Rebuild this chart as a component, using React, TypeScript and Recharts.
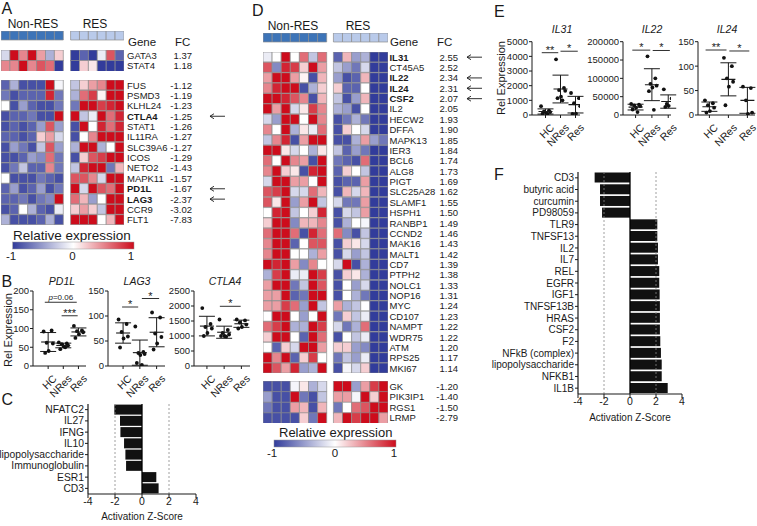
import { Bar, BarChart, Cell, ErrorBar, ReferenceLine, Scatter, ScatterChart, XAxis, YAxis } from 'recharts';

const FONT = '"Liberation Sans", Arial, Helvetica, sans-serif';
const INK = '#1a1a1a';

// ---- panel A heatmap ----
const aTopGenes = ['GATA3', 'STAT4'];
const aTopFc = [1.37, 1.18];
const aTopNonRes = [
  [-0.2, 1, 0.5, 1, 0.4, -0.4, 0.2],
  [0.5, 0.5, 1, 0.5, 0.7, 0.6, -1],
];
const aTopRes = [
  [-1, -0.8, -1, -0.1, 0.7, -0.8],
  [-1, 0.2, 0.1, -1, -1, -1],
];
const aGenes = ['FUS', 'PSMD3', 'KLHL24', 'CTLA4', 'STAT1', 'IL11RA', 'SLC39A6', 'ICOS', 'NETO2', 'MAPK11', 'PD1L', 'LAG3', 'CCR9', 'FLT1'];
const aFc = [-1.12, -1.19, -1.23, -1.25, -1.26, -1.27, -1.27, -1.29, -1.43, -1.57, -1.67, -2.37, -3.02, -7.83];
const aNonRes = [
  [-0.8, -0.4, -0.9, -0.9, -0.9, 1, -0.05],
  [-0.7, -0.9, -0.8, -0.8, -0.8, 0.9, -0.7],
  [0, -0.9, -0.5, -0.8, -0.9, -0.9, -0.7],
  [-0.9, -0.8, -0.8, -0.7, -0.9, -0.9, 1],
  [-0.9, -0.8, -0.9, -0.8, -0.5, 0.7, -0.5],
  [-0.8, -0.8, -0.9, -0.8, 0.2, 0.4, -0.2],
  [-0.9, -0.5, -0.7, -0.9, -0.3, 0.7, -0.5],
  [-0.9, -0.9, -0.8, -0.5, -0.6, 0.6, -0.7],
  [-0.9, -0.7, -0.3, -0.8, -0.8, 0.5, -0.7],
  [0, -0.9, -0.9, -0.9, -0.7, -0.8, -0.9],
  [-0.8, -0.5, -0.9, -0.8, -0.5, -0.9, -0.7],
  [-0.8, -0.8, -0.7, -0.9, -0.7, -0.6, 1],
  [-0.9, -0.8, 0, -0.4, -0.8, -0.9, -0.1],
  [-0.4, -0.9, -0.9, -0.9, -0.8, -0.4, -0.9],
];
const aRes = [
  [-0.3, 0.2, 0.4, 0.5, 1, 1],
  [-0.4, 0.6, 0.8, 0.05, 1, 1],
  [-0.7, 1, 1, 0.8, 0.9, 1],
  [1, -0.3, -0.1, 1, 0.6, 0.9],
  [-0.9, 1, 0, 0.9, 0.6, 0.9],
  [-0.9, 0, 0.5, 1, 1, 1],
  [-0.4, 1, 1, -0.4, 0, 1],
  [-0.9, 0.2, 0.7, 0.8, 1, 1],
  [-0.3, 0.9, 1, 1, -0.7, 0.3],
  [0.7, 0.7, 0.5, -0.2, 1, 1],
  [1, -0.2, 1, 0.7, 0.6, 1],
  [0.6, 0.3, -0.5, 0, 1, 1],
  [0.2, 0.4, 0.2, -0.3, 1, 1],
  [1, 1, 1, 0, 0.3, 1],
];
const aMarked = ['CTLA4', 'PD1L', 'LAG3'];

// ---- panel D heatmap ----
const dGenes = ['IL31', 'CT45A5', 'IL22', 'IL24', 'CSF2', 'IL2', 'HECW2', 'DFFA', 'MAPK13', 'IER3', 'BCL6', 'ALG8', 'PIGT', 'SLC25A28', 'SLAMF1', 'HSPH1', 'RANBP1', 'CCND2', 'MAK16', 'MALT1', 'CD7', 'PTPH2', 'NOLC1', 'NOP16', 'MYC', 'CD107', 'NAMPT', 'WDR75', 'ATM', 'RPS25', 'MKI67'];
const dFc = [2.55, 2.52, 2.34, 2.31, 2.07, 2.05, 1.93, 1.9, 1.85, 1.84, 1.74, 1.73, 1.69, 1.62, 1.55, 1.5, 1.49, 1.46, 1.43, 1.42, 1.39, 1.38, 1.33, 1.31, 1.24, 1.23, 1.22, 1.22, 1.2, 1.17, 1.14];
const dNonRes = [
  [-0.1, 0, 1, 0, 0.6, -0.3, 0.6],
  [0.7, -0.6, 0.9, 0.8, 0.2, 1, 0.4],
  [0.4, 1, 1, 0.4, 0.05, -0.9, 0.3],
  [0.5, 0.9, 1, 1, -0.9, -0.4, 0.2],
  [1, 1, 0.9, 0.7, 0.5, -0.9, 0.3],
  [1, 0.4, 1, -0.2, 0.1, 0.8, 0.5],
  [-0.2, -0.5, 1, 1, 0, 1, 0.5],
  [0.5, 0, 1, -0.4, 0.1, -0.1, 0.6],
  [-0.3, 0.5, 0.9, -0.9, 0.4, 1, 1],
  [1, 1, 0.1, -0.2, 0, -0.4, 0.1],
  [0.6, 0, 1, 0.5, 0.4, -0.9, 1],
  [0.5, 1, 0.2, 0.1, -0.9, 0.9, 1],
  [-0.2, 1, 1, 0.4, 0.4, 0, 1],
  [0.7, 0.8, 1, -0.2, -0.2, 0.6, 0.3],
  [0.7, 0.1, 1, -0.5, 0.4, 1, -0.3],
  [0, 0.9, 1, -0.3, 0, 0.2, 0.9],
  [0.2, 1, 1, -0.6, 0.3, 0.3, 0.5],
  [0.6, 1, 1, 0.6, -0.9, 0.9, 0.6],
  [0.5, 1, 1, -0.8, 0, 0.7, 0.7],
  [0.5, 1, 1, 0, 0, -0.4, 0.4],
  [1, 0.9, 1, 0.4, -0.6, 0.5, 0],
  [-0.4, 0.8, 1, -0.1, -0.1, 1, 0.8],
  [0.4, 1, 1, -0.7, -0.3, 1, 0.7],
  [0.4, 0.4, 1, -0.8, -0.7, 1, 1],
  [0.4, 0.4, 0.8, 0.6, -0.5, 1, -0.3],
  [0, 1, 1, 0, -0.5, 0, 1],
  [0.6, 0.8, 1, -0.4, -0.4, 1, 0.8],
  [0.2, 1, 1, 0, -0.8, 1, 0.6],
  [0, -0.8, 0.2, -0.2, 1, 1, 0.4],
  [1, 0.5, 1, -0.8, 0.2, 0.8, 0],
  [1, 0.7, 0.4, 0.9, -0.5, -0.4, 1],
];
const dRes = [
  [-0.8, 0.3, -0.5, -0.4, -1, -1],
  [-0.3, -0.5, -0.7, -0.2, -1, -1],
  [-0.5, -0.9, -0.8, 0.3, -1, -1],
  [0.2, -0.8, -0.8, 0, -1, -1],
  [-0.3, -0.9, -0.5, 0.3, -1, -1],
  [-0.4, -0.5, -0.9, 0, -1, -1],
  [-0.9, -0.7, -0.4, -0.7, -1, -1],
  [-0.9, 0.2, 0, -0.2, -1, -1],
  [-0.9, -0.9, -0.4, 0.4, -0.5, -0.7],
  [-0.3, -0.8, -0.5, -0.7, -1, -1],
  [-0.7, -0.8, -0.9, 0.6, -1, -1],
  [-0.8, 0.2, 0, -0.3, -1, -1],
  [-0.9, -0.8, -0.8, 0.4, -1, -1],
  [-0.9, 0.3, -0.2, 0.3, -1, -1],
  [-0.2, -0.7, -0.7, 0.4, -1, -1],
  [-0.9, -0.2, -0.3, 0.4, -1, -1],
  [-0.9, -0.4, 0, -0.05, -1, -1],
  [0.6, -0.6, -0.9, -0.3, -1, -1],
  [-0.9, 0.2, 0.1, -0.2, -1, -1],
  [-0.9, -0.2, -0.5, -0.3, -1, -1],
  [-0.2, 1, -0.9, -0.4, -1, -1],
  [-0.9, 0.2, 0.1, -0.4, -1, -1],
  [-0.9, 0, -0.5, -0.2, -1, -1],
  [-0.9, 0, -0.4, -0.7, -1, -1],
  [0.4, -0.4, -0.3, 0, -1, -1],
  [-0.7, 0.2, -0.3, -0.1, -1, -1],
  [-0.2, -0.7, -0.4, 0.6, -1, -1],
  [-0.9, 0, -0.3, -0.1, -1, -1],
  [0.2, 0.2, -0.5, -0.6, -1, -1],
  [-0.7, -0.3, -0.5, -0.1, -1, -1],
  [-0.9, -0.05, -0.2, 0.2, -1, -1],
];
const dMarked = ['IL31', 'IL22', 'IL24', 'CSF2'];
const dLowGenes = ['GK', 'PIK3IP1', 'RGS1', 'LRMP'];
const dLowFc = [-1.2, -1.4, -1.5, -2.79];
const dLowNonRes = [
  [-0.9, -0.9, -0.9, -0.05, 0.1, -0.4, -0.2],
  [-0.5, -0.9, -0.9, 1, -0.7, -0.9, -0.3],
  [-0.7, -0.9, -0.9, 0.4, 0.3, -0.9, 0.3],
  [-0.9, -0.9, -0.9, -0.9, 0.2, -0.7, 1],
];
const dLowRes = [
  [1, 1, -0.5, 0.4, 0.8, 1],
  [0.4, 0.4, -0.05, 1, 0.2, 1],
  [-0.7, 0, 0.6, 0.7, 1, 1],
  [0.3, 1, 0.8, 1, 1, 0.4],
];

// ---- dot plots (B, E) ----
const groupNames = ['HC', 'NRes', 'Res'];
const pd1l = [[92, 95, 62, 60, 40, 35], [63, 60, 58, 55, 52, 45, 50], [107, 95, 93, 90, 85, 75]];
const lag3 = [[93, 84, 68, 59, 55, 37], [79, 28, 26, 24, 22, 6, 2], [107, 97, 65, 58, 45, 33]];
const ctla4 = [[1930, 1400, 1300, 1250, 1100, 1000], [1550, 1200, 1100, 1050, 1000, 1000, 980], [1550, 1520, 1450, 1380, 1300, 1250]];
const il31 = [[600, 300, 250, 200, 150, 100, 80], [3800, 1850, 1700, 1650, 1250, 1150, 1000], [1500, 1150, 800, 600, 100, 80]];
const il22 = [[30000, 28000, 26000, 24000, 20000, 15000, 8000], [160000, 100000, 85000, 80000, 75000, 65000, 14000], [70000, 45000, 30000, 28000, 25000, 22000]];
const il24 = [[30, 24, 20, 15, 8, 5], [117, 100, 75, 68, 58, 20], [58, 55, 30, 5, 2]];
const jitter = [-0.9, 0.7, -0.3, 0.95, 0.1, -0.6, 0.4];

// ---- upstream regulators (C, F) ----
const cLabels = ['NFATC2', 'IL27', 'IFNG', 'IL10', 'lipopolysaccharide', 'Immunoglobulin', 'ESR1', 'CD3'];
const cScores = [-2.05, -1.63, -1.6, -1.33, -1.23, -1.18, 1.06, 1.23];
const fLabels = ['CD3', 'butyric acid', 'curcumin', 'PD98059', 'TLR9', 'TNFSF13', 'IL2', 'IL7', 'REL', 'EGFR', 'IGF1', 'TNFSF13B', 'HRAS', 'CSF2', 'F2', 'NFkB (complex)', 'lipopolysaccharide', 'NFKB1', 'IL1B'];
const fScores = [-2.72, -2.31, -2.31, -2.15, 2.1, 2.1, 2.15, 2.15, 2.25, 2.25, 2.28, 2.3, 2.3, 2.3, 2.33, 2.38, 2.44, 2.44, 2.9];

function heat(v: number) {
  const white = [255, 255, 255];
  const end = v < 0 ? [50, 60, 155] : [205, 12, 28];
  const k = Math.min(1, Math.abs(v));
  return `rgb(${white.map((w, i) => Math.round(w + (end[i] - w) * k)).join(',')})`;
}

interface HeatProps {
  genes: string[];
  fc?: number[];
  nonRes: number[][];
  res: number[][];
  left: number;
  top: number;
  rowH: number;
  plotW: number;
  width: number;
  gap: number;
  marked?: string[];
  labelDx?: number;
  fcDx?: number;
  arrowDx?: number;
  fills?: [string, string];
}

function HeatBlock(p: HeatProps) {
  const nKeys = p.nonRes[0].map((_, j) => `n${j}`);
  const rKeys = p.res[0].map((_, j) => `r${j}`);
  const data = p.genes.map((gene) => {
    const row: Record<string, string | number> = { gene, gap: p.gap };
    nKeys.forEach((k) => (row[k] = 1));
    rKeys.forEach((k) => (row[k] = 1));
    return row;
  });
  const total = nKeys.length + p.gap + rKeys.length;
  const tick = (t: any) => {
    const i = p.genes.indexOf(t.payload.value);
    const g = p.genes[i];
    const mk = p.marked?.includes(g);
    const { x, y } = t;
    const ax = x + (p.arrowDx ?? 0);
    return (
      <g fontFamily={FONT} fontSize={9.5} fill={INK}>
        <text x={x + (p.labelDx ?? 2)} y={y} dy={3.4} fontWeight={mk ? 700 : 400}>{g}</text>
        {p.fc && (
          <text x={x + (p.fcDx ?? 68)} y={y} dy={3.4} textAnchor="end">{p.fc[i].toFixed(2)}</text>
        )}
        {mk && (
          <g stroke={INK} strokeWidth={0.9} fill="none">
            <line x1={ax} x2={ax + 15} y1={y} y2={y} />
            <polyline points={`${ax + 4},${y - 2.5} ${ax},${y} ${ax + 4},${y + 2.5}`} />
          </g>
        )}
      </g>
    );
  };
  const cellFill = (v: number, grp: 0 | 1) => (p.fills ? p.fills[grp] : heat(v));
  return (
    <div style={{ position: 'absolute', left: p.left, top: p.top }}>
      <BarChart
        layout="vertical"
        width={p.width}
        height={p.genes.length * p.rowH}
        data={data}
        margin={{ top: 0, right: 0, bottom: 0, left: 0 }}
        barCategoryGap={0}
      >
        <XAxis type="number" hide domain={[0, total]} allowDataOverflow />
        <YAxis
          type="category"
          dataKey="gene"
          orientation="right"
          hide={p.width === p.plotW}
          width={Math.max(1, p.width - p.plotW)}
          axisLine={false}
          tickLine={false}
          tickSize={0}
          tickMargin={0}
          interval={0}
          tick={tick}
        />
        {nKeys.map((k, j) => (
          <Bar key={k} dataKey={k} stackId="h" isAnimationActive={false}>
            {data.map((_, i) => (
              <Cell key={i} fill={cellFill(p.nonRes[i][j], 0)} stroke="#8c8c8c" strokeWidth={0.7} />
            ))}
          </Bar>
        ))}
        <Bar dataKey="gap" stackId="h" fill="none" stroke="none" isAnimationActive={false} />
        {rKeys.map((k, j) => (
          <Bar key={k} dataKey={k} stackId="h" isAnimationActive={false}>
            {data.map((_, i) => (
              <Cell key={i} fill={cellFill(p.res[i][j], 1)} stroke="#8c8c8c" strokeWidth={0.7} />
            ))}
          </Bar>
        ))}
      </BarChart>
    </div>
  );
}

interface Bracket {
  x1: number;
  x2: number;
  y: number;
  text: string;
}

interface DotProps {
  vals: number[][];
  left: number;
  top: number;
  width: number;
  height: number;
  plotTop: number;
  plotBottom: number;
  plotRight: number;
  axisW: number;
  xDomain: [number, number];
  yMax: number;
  yTicks: number[];
  spread: number;
  brackets: Bracket[];
}

function DotPlot(p: DotProps) {
  const points = p.vals.flatMap((vs, g) => vs.map((v, i) => ({ x: g + 1 + jitter[i] * p.spread, y: v })));
  const summary = p.vals.map((vs, g) => {
    const m = vs.reduce((a, b) => a + b, 0) / vs.length;
    const sd = Math.sqrt(vs.reduce((a, b) => a + (b - m) ** 2, 0) / (vs.length - 1));
    return { x: g + 1, y: m, sd };
  });
  const rotTick = (t: any) => {
    const ax = t.x + 4;
    const ay = t.y + 3;
    return (
      <text x={ax} y={ay} transform={`rotate(-45 ${ax} ${ay})`} textAnchor="end" dy={7.5} fontSize={10.5} fill={INK} fontFamily={FONT}>
        {groupNames[t.payload.value - 1]}
      </text>
    );
  };
  const mTop = p.plotTop - p.top;
  return (
    <div style={{ position: 'absolute', left: p.left, top: p.top }}>
      <ScatterChart
        width={p.width}
        height={p.height}
        margin={{ top: mTop, right: p.left + p.width - p.plotRight, bottom: 0, left: 0 }}
      >
        <XAxis
          type="number"
          dataKey="x"
          domain={p.xDomain}
          ticks={[1, 2, 3]}
          interval={0}
          height={p.top + p.height - p.plotBottom}
          tickSize={3}
          tick={rotTick}
          axisLine={{ stroke: INK }}
          tickLine={{ stroke: INK }}
          allowDataOverflow
        />
        <YAxis
          type="number"
          dataKey="y"
          domain={[0, p.yMax]}
          ticks={p.yTicks}
          interval={0}
          width={p.axisW}
          tickSize={3}
          tickMargin={1}
          tick={{ fontSize: 9.5, fill: INK, fontFamily: FONT }}
          axisLine={{ stroke: INK }}
          tickLine={{ stroke: INK }}
          allowDataOverflow
        />
        <Scatter
          data={points}
          isAnimationActive={false}
          shape={(s: any) => <circle cx={s.cx} cy={s.cy} r={1.9} fill="#111" />}
        />
        <Scatter
          data={summary}
          isAnimationActive={false}
          shape={(s: any) => <line x1={s.cx - 7} x2={s.cx + 7} y1={s.cy} y2={s.cy} stroke={INK} strokeWidth={1.1} />}
        >
          <ErrorBar dataKey="sd" direction="y" width={8} stroke={INK} strokeWidth={1} />
        </Scatter>
        {p.brackets.map((b, i) => (
          <ReferenceLine
            key={i}
            segment={[{ x: b.x1, y: b.y }, { x: b.x2, y: b.y }]}
            stroke={INK}
            strokeWidth={0.9}
            ifOverflow="visible"
            label={{
              content: (lp: any) => {
                const vb = lp.viewBox ?? {};
                const cx = (vb.x ?? 0) + (vb.width ?? 0) / 2;
                const isP = b.text.startsWith('p');
                return (
                  <text x={cx} y={(vb.y ?? 0) - (isP ? 2.5 : -1)} textAnchor="middle" fontFamily={FONT} fontSize={isP ? 8 : 11} fill={INK}>
                    {isP ? (
                      <>
                        <tspan fontStyle="italic">p</tspan>
                        {b.text.slice(1)}
                      </>
                    ) : (
                      b.text
                    )}
                  </text>
                );
              },
            }}
          />
        ))}
      </ScatterChart>
    </div>
  );
}

interface ZProps {
  labels: string[];
  scores: number[];
  left: number;
  top: number;
  width: number;
  height: number;
  labelSize: number;
}

function ZBars(p: ZProps) {
  const data = p.labels.map((name, i) => ({ name, z: p.scores[i] }));
  const catTick = (t: any) => (
    <text x={t.x} y={t.y} dy={3.6} textAnchor="end" fontSize={p.labelSize} fill={INK} fontFamily={FONT}>
      {t.payload.value}
    </text>
  );
  return (
    <div style={{ position: 'absolute', left: p.left, top: p.top }}>
      <BarChart
        layout="vertical"
        width={p.width}
        height={p.height}
        data={data}
        margin={{ top: 4, right: 10, bottom: 0, left: 0 }}
        barCategoryGap={0.6}
      >
        <XAxis
          type="number"
          domain={[-4, 4]}
          ticks={[-4, -2, 0, 2, 4]}
          height={30}
          tickSize={4}
          tickMargin={0}
          tick={{ fontSize: 10.5, fill: INK, fontFamily: FONT }}
          axisLine={{ stroke: INK, strokeWidth: 1.2 }}
          tickLine={{ stroke: INK }}
        />
        <YAxis
          type="category"
          dataKey="name"
          width={88}
          tickSize={3}
          tickMargin={1}
          interval={0}
          tick={catTick}
          axisLine={{ stroke: INK, strokeWidth: 1.2 }}
          tickLine={{ stroke: INK }}
        />
        <ReferenceLine x={-2} stroke="#888" strokeDasharray="2 2" strokeWidth={0.8} />
        <ReferenceLine x={2} stroke="#888" strokeDasharray="2 2" strokeWidth={0.8} />
        <Bar dataKey="z" fill="#111" isAnimationActive={false} />
        <ReferenceLine x={0} stroke="#000" strokeWidth={1.3} />
      </BarChart>
    </div>
  );
}

const txt = { fontFamily: FONT, fill: INK } as const;

function GradBar({ x, y, w }: { x: number; y: number; w: number }) {
  return <rect x={x} y={y} width={w} height={7} fill="url(#relgrad)" stroke="#999" strokeWidth={0.5} />;
}

export default function App() {
  return (
    <div style={{ position: 'absolute', left: 0, top: 0, width: 757, height: 526, background: '#fff', fontFamily: FONT, overflow: 'hidden' }}>
      {/* A */}
      <HeatBlock genes={['']} nonRes={[aTopNonRes[0]]} res={[aTopRes[0]]} left={1} top={31.3} rowH={9.4} plotW={123} width={123} gap={0.82} fills={['#3d74b8', '#b9caea']} />
      <HeatBlock genes={aTopGenes} fc={aTopFc} nonRes={aTopNonRes} res={aTopRes} left={1} top={49.7} rowH={10.5} plotW={123} width={235} gap={0.82} labelDx={3} fcDx={68} arrowDx={86} />
      <HeatBlock genes={aGenes} fc={aFc} nonRes={aNonRes} res={aRes} left={1} top={79.7} rowH={10.36} plotW={123} width={235} gap={0.82} marked={aMarked} labelDx={3} fcDx={68} arrowDx={86} />

      {/* B */}
      <DotPlot vals={pd1l} left={0} top={285} width={100} height={122} plotTop={291} plotBottom={366} plotRight={86} axisW={33} xDomain={[0, 3.5]} yMax={200} yTicks={[0, 50, 100, 150, 200]} spread={0.33}
        brackets={[{ x1: 0.78, x2: 2.89, y: 170, text: 'p=0.06' }, { x1: 1.89, x2: 2.95, y: 134, text: '***' }]} />
      <DotPlot vals={lag3} left={84} top={285} width={95} height={122} plotTop={291} plotBottom={366} plotRight={165} axisW={24} xDomain={[0.1, 3.5]} yMax={150} yTicks={[0, 50, 100, 150]} spread={0.3}
        brackets={[{ x1: 0.94, x2: 1.9, y: 118, text: '*' }, { x1: 2.12, x2: 3.15, y: 135, text: '*' }]} />
      <DotPlot vals={ctla4} left={158} top={285} width={102} height={122} plotTop={291} plotBottom={366} plotRight={250} axisW={36} xDomain={[0.25, 3.5]} yMax={2500} yTicks={[0, 500, 1000, 1500, 2000, 2500]} spread={0.3}
        brackets={[{ x1: 1.75, x2: 2.96, y: 1990, text: '*' }]} />

      {/* C */}
      <ZBars labels={cLabels} scores={cScores} left={0} top={400} width={206} height={124} labelSize={10.3} />

      {/* D */}
      <HeatBlock genes={['']} nonRes={[dNonRes[0]]} res={[dRes[0]]} left={263.3} top={33.3} rowH={9.4} plotW={125} width={125} gap={0.74} fills={['#3d74b8', '#b9caea']} />
      <HeatBlock genes={dGenes} fc={dFc} nonRes={dNonRes} res={dRes} left={263.3} top={51.7} rowH={10.37} plotW={125} width={225} gap={0.74} marked={dMarked} labelDx={1.5} fcDx={70} arrowDx={79} />
      <HeatBlock genes={dLowGenes} fc={dLowFc} nonRes={dLowNonRes} res={dLowRes} left={263.3} top={381} rowH={10.6} plotW={125} width={225} gap={0.74} labelDx={1.5} fcDx={70} arrowDx={79} />

      {/* E */}
      <DotPlot vals={il31} left={490} top={36} width={102} height={122} plotTop={41.7} plotBottom={115} plotRight={580} axisW={42} xDomain={[0.1, 3.3]} yMax={5000} yTicks={[0, 1000, 2000, 3000, 4000, 5000]} spread={0.33}
        brackets={[{ x1: 0.75, x2: 1.85, y: 4250, text: '**' }, { x1: 2.0, x2: 3.15, y: 4350, text: '*' }]} />
      <DotPlot vals={il22} left={583} top={36} width={101} height={122} plotTop={41.7} plotBottom={115} plotRight={671} axisW={40} xDomain={[0.23, 3.17]} yMax={200000} yTicks={[0, 50000, 100000, 150000, 200000]} spread={0.3}
        brackets={[{ x1: 0.8, x2: 1.9, y: 177000, text: '*' }, { x1: 2.05, x2: 3.1, y: 176000, text: '*' }]} />
      <DotPlot vals={il24} left={676} top={36} width={81} height={122} plotTop={41.7} plotBottom={115} plotRight={755} axisW={22} xDomain={[0.4, 3.4]} yMax={150} yTicks={[0, 50, 100, 150]} spread={0.26}
        brackets={[{ x1: 0.8, x2: 1.9, y: 133, text: '**' }, { x1: 2.05, x2: 3.1, y: 131, text: '*' }]} />

      {/* F */}
      <ZBars labels={fLabels} scores={fScores} left={490} top={168} width={202} height={256} labelSize={10} />

      <svg width={757} height={526} style={{ position: 'absolute', left: 0, top: 0, pointerEvents: 'none' }}>
        <defs>
          <linearGradient id="relgrad" x1="0" x2="1" y1="0" y2="0">
            <stop offset="0" stopColor="rgb(50,60,155)" />
            <stop offset="0.5" stopColor="#fff" />
            <stop offset="1" stopColor="rgb(205,12,28)" />
          </linearGradient>
        </defs>
        <g {...txt} fontSize={16}>
          <text x={1.5} y={14}>A</text>
          <text x={1.5} y={287}>B</text>
          <text x={1.5} y={405}>C</text>
          <text x={252} y={16}>D</text>
          <text x={494} y={16.5}>E</text>
          <text x={494} y={180}>F</text>
        </g>
        <g {...txt} fontSize={12}>
          <text x={33} y={28} textAnchor="middle">Non-RES</text>
          <text x={95} y={28} textAnchor="middle">RES</text>
          <text x={293} y={30} textAnchor="middle">Non-RES</text>
          <text x={358} y={30} textAnchor="middle">RES</text>
        </g>
        <g {...txt} fontSize={11.5}>
          <text x={128} y={45.5}>Gene</text>
          <text x={175} y={45.5}>FC</text>
          <text x={390} y={45.5}>Gene</text>
          <text x={437} y={45.5}>FC</text>
        </g>
        <text {...txt} fontSize={13.5} x={13} y={240}>Relative expression</text>
        <GradBar x={12.7} y={242} w={121.3} />
        <g {...txt} fontSize={11.5} textAnchor="middle">
          <text x={11} y={260}>-1</text>
          <text x={72.5} y={260}>0</text>
          <text x={131} y={260}>1</text>
        </g>
        <text {...txt} fontSize={13} x={279} y={436.5}>Relative expression</text>
        <GradBar x={274} y={440} w={122} />
        <g {...txt} fontSize={11.5} textAnchor="middle">
          <text x={272} y={456.5}>-1</text>
          <text x={335} y={456.5}>0</text>
          <text x={394} y={456.5}>1</text>
        </g>
        <g {...txt} fontSize={10.5} fontStyle="italic" textAnchor="middle">
          <text x={62} y={285}>PD1L</text>
          <text x={137} y={285}>LAG3</text>
          <text x={225} y={285}>CTLA4</text>
          <text x={562} y={33}>IL31</text>
          <text x={652} y={33}>IL22</text>
          <text x={727} y={33}>IL24</text>
        </g>
        <g {...txt} fontSize={11} textAnchor="middle">
          <text transform="translate(11.5 330) rotate(-90)">Rel Expression</text>
          <text transform="translate(505 78) rotate(-90)">Rel Expression</text>
        </g>
        <g {...txt} fontSize={10} textAnchor="middle">
          <text x={142} y={520}>Activation Z-Score</text>
          <text x={630} y={421}>Activation Z-Score</text>
        </g>
      </svg>
    </div>
  );
}
